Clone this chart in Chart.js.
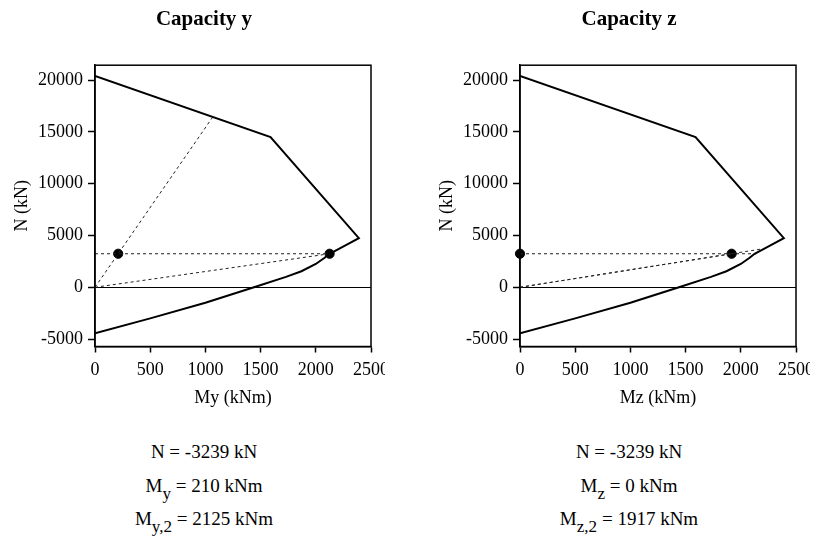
<!DOCTYPE html>
<html>
<head>
<meta charset="utf-8">
<title>Capacity</title>
<script src="https://cdn.jsdelivr.net/npm/chart.js@4.4.1/dist/chart.umd.min.js"></script>
<style>
  body { margin: 0; background: #fff; width: 819px; height: 538px; position: relative; overflow: hidden; font-family: 'Liberation Serif', 'Times New Roman', serif; }
  canvas { position: absolute; top: 0; }
  #capY { left: 0; }
  #capZ { left: 425px; }
  .res { position: absolute; top: 435px; width: 220px; text-align: center; font-size: 19px; line-height: 33.5px; color: #000; }
  .res sub { font-size: 0.9em; vertical-align: -0.4em; line-height: 0; }
  #resY { left: 94px; }
  #resZ { left: 519px; }
</style>
</head>
<body>
<canvas id="capY" width="385" height="410"></canvas>
<canvas id="capZ" width="385" height="410"></canvas>
<div class="res" id="resY"></div>
<div class="res" id="resZ"></div>
<script>
//Interaction curve of the section (N positive = compression), same for both axes
const capM = [0, 1590, 2390, 2260, 2125, 2080, 2000, 1870, 1730, 1440, 1000, 500, 0];
const capN = [20420, 14500, 4750, 4000, 3239, 2850, 2250, 1550, 1000, 0, -1500, -3000, -4450];

//Tick labels
const mTicks = [0, 500, 1000, 1500, 2000, 2500];
const nTicks = [-5000, 0, 5000, 10000, 15000, 20000];

//Design forces
const nEd = -3239;
const myEd = 210;
const myEd2 = 2125;
const mzEd = 0;
const mzEd2 = 1917;

//Load rays from origin to the curve
const rayY = [1061, 16360];
const rayZ = [2200, 3717];
//End of the constant N line on the curve
const hEndY = myEd2;
const hEndZ = 2140;

const serif = "'Liberation Serif', 'Times New Roman', serif";

function pts(ms, ns) {
    return ms.map((m, i) => ({x: m, y: ns[i]}));
}

//box around the plot area
const frame = {
    id: 'frame',
    afterDraw(chart) {
        const ctx = chart.ctx;
        const a = chart.chartArea;
        ctx.save();
        ctx.strokeStyle = '#000';
        ctx.lineWidth = 1.5;
        ctx.strokeRect(a.left, a.top, a.right - a.left, a.bottom - a.top);
        ctx.restore();
    }
};

function guide(data) {
    return {
        data: data,
        showLine: true,
        borderColor: '#222',
        borderWidth: 1,
        borderDash: [3, 3],
        pointRadius: 0
    };
}

function createChart(id, title, xTitle, m1, m2, ray, hEnd) {
    let n = -nEd;
    return new Chart(document.getElementById(id).getContext('2d'), {
        type: 'scatter',
        data: {
            datasets: [
                {
                    data: pts(capM, capN),
                    showLine: true,
                    borderColor: '#000',
                    borderWidth: 2,
                    pointRadius: 0
                },
                guide(pts([0, hEnd], [n, n])),
                guide(pts([0, m2], [0, n])),
                guide(pts([0, ray[0]], [0, ray[1]])),
                {
                    data: pts([m1, m2], [n, n]),
                    pointRadius: 4.6,
                    backgroundColor: '#000',
                    borderColor: '#000',
                    clip: false
                }
            ]
        },
        options: {
            responsive: false,
            animation: false,
            events: [],
            devicePixelRatio: 1,
            layout: {padding: {left: 37, right: 14, top: 0, bottom: 0}},
            plugins: {
                legend: {display: false},
                tooltip: {enabled: false},
                title: {
                    display: true,
                    text: title,
                    color: '#000',
                    font: {family: serif, size: 21, weight: 'bold'},
                    padding: {top: 7, bottom: 33}
                }
            },
            scales: {
                x: {
                    type: 'linear',
                    min: 0,
                    max: 2500,
                    afterBuildTicks: s => { s.ticks = mTicks.map(v => ({value: v})); },
                    afterFit: s => { s.height = 63.5; s.paddingLeft = 0; s.paddingRight = 0; },
                    grid: {drawOnChartArea: false, tickLength: 6, tickColor: '#000', tickWidth: 1.5},
                    border: {color: '#000', width: 1.5},
                    ticks: {color: '#000', font: {family: serif, size: 18}, padding: 7, maxRotation: 0, autoSkip: false,
                        callback: v => String(v)},
                    title: {display: true, text: xTitle, color: '#000', font: {family: serif, size: 18}, padding: {top: 0, bottom: 1}}
                },
                y: {
                    type: 'linear',
                    min: -5720,
                    max: 21450,
                    afterBuildTicks: s => { s.ticks = nTicks.map(v => ({value: v})); },
                    afterFit: s => { s.width = 58; s.paddingTop = 0; s.paddingBottom = 0; },
                    grid: {
                        color: c => (c.tick && c.tick.value === 0) ? '#000' : 'rgba(0,0,0,0)',
                        lineWidth: 1,
                        tickLength: 7,
                        tickColor: '#000',
                        tickWidth: 1.5
                    },
                    border: {color: '#000', width: 1.5},
                    ticks: {color: '#000', font: {family: serif, size: 18}, padding: 5,
                        callback: v => String(v)},
                    title: {display: true, text: 'N (kN)', color: '#000', font: {family: serif, size: 18}, padding: {top: -26, bottom: 0}}
                }
            }
        },
        plugins: [frame]
    });
}

createChart('capY', 'Capacity y', 'My (kNm)', myEd, myEd2, rayY, hEndY);
createChart('capZ', 'Capacity z', 'Mz (kNm)', mzEd, mzEd2, rayZ, hEndZ);

document.getElementById('resY').innerHTML =
    'N = ' + nEd + ' kN<br>M<sub>y</sub> = ' + myEd + ' kNm<br>M<sub>y,2</sub> = ' + myEd2 + ' kNm';
document.getElementById('resZ').innerHTML =
    'N = ' + nEd + ' kN<br>M<sub>z</sub> = ' + mzEd + ' kNm<br>M<sub>z,2</sub> = ' + mzEd2 + ' kNm';
</script>
</body>
</html>
